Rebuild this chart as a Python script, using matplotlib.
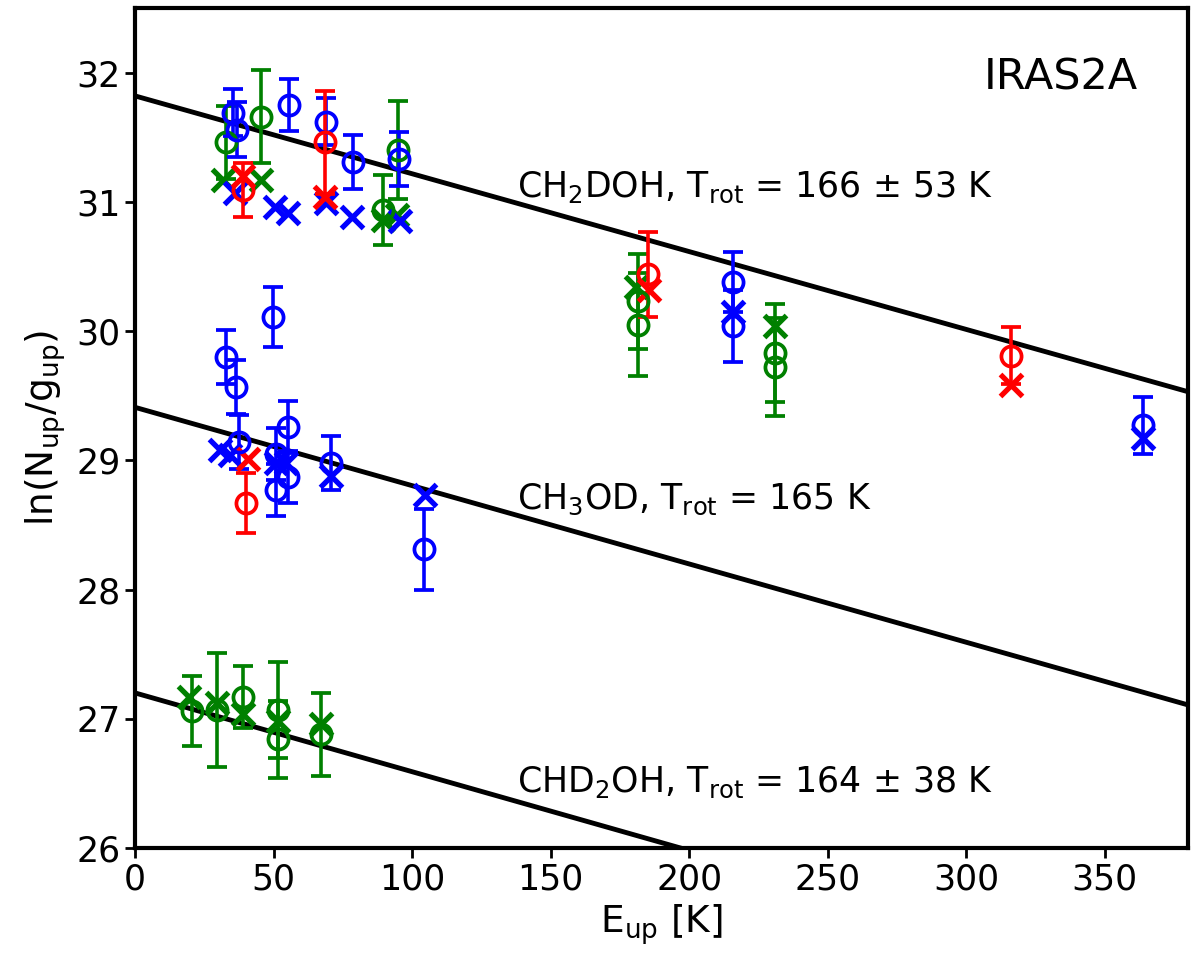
import numpy as np
import matplotlib
matplotlib.use('Agg')
import matplotlib.pyplot as plt

plt.rcParams['font.family'] = ['DejaVu Sans']
plt.rcParams['mathtext.fontset'] = 'dejavusans'

# --- CH2DOH points ---
ch2doh_blue_o_x = [35.4, 36.8, 55.6, 68.8, 78.6, 95.4, 215.8, 215.8, 363.7]
ch2doh_blue_o_y = [31.69, 31.56, 31.75, 31.62, 31.31, 31.33, 30.38, 30.04, 29.27]
ch2doh_blue_o_e = [0.18, 0.21, 0.20, 0.18, 0.21, 0.21, 0.23, 0.28, 0.22]
ch2doh_blue_x_x = [36.0, 50.4, 55.2, 68.8, 78.4, 95.6, 215.8, 363.7]
ch2doh_blue_x_y = [31.07, 30.96, 30.91, 30.99, 30.88, 30.85, 30.15, 29.17]

ch2doh_green_o_x = [33.0, 45.6, 94.8, 89.4, 181.6, 181.6, 230.8, 230.8]
ch2doh_green_o_y = [31.46, 31.66, 31.40, 30.94, 30.23, 30.05, 29.83, 29.72]
ch2doh_green_o_e = [0.28, 0.36, 0.38, 0.27, 0.37, 0.40, 0.38, 0.38]
ch2doh_green_x_x = [31.8, 45.6, 89.4, 94.5, 180.9, 230.8]
ch2doh_green_x_y = [31.17, 31.17, 30.86, 30.90, 30.34, 30.04]

ch2doh_red_o_x = [38.8, 68.4, 185.2, 316.3]
ch2doh_red_o_y = [31.09, 31.46, 30.44, 29.81]
ch2doh_red_o_e = [0.21, 0.40, 0.33, 0.22]
ch2doh_red_x_x = [38.8, 68.4, 185.4, 316.3]
ch2doh_red_x_y = [31.20, 31.04, 30.32, 29.58]

# --- CH3OD points ---
ch3od_blue_o_x = [33.0, 36.6, 37.5, 49.8, 55.2, 51.0, 51.0, 55.2, 70.8, 104.4]
ch3od_blue_o_y = [29.80, 29.57, 29.14, 30.11, 29.26, 29.05, 28.77, 28.87, 28.98, 28.31]
ch3od_blue_o_e = [0.21, 0.21, 0.21, 0.23, 0.20, 0.20, 0.20, 0.20, 0.21, 0.31]
ch3od_blue_x_x = [30.6, 34.2, 51.0, 54.6, 70.8, 104.8]
ch3od_blue_x_y = [29.08, 29.04, 28.98, 28.98, 28.88, 28.73]

ch3od_red_o_x = [40.0]
ch3od_red_o_y = [28.67]
ch3od_red_o_e = [0.23]
ch3od_red_x_x = [40.8]
ch3od_red_x_y = [29.01]

# --- CHD2OH points ---
chd2oh_green_o_x = [20.4, 29.6, 39.0, 51.6, 51.6, 67.2]
chd2oh_green_o_y = [27.06, 27.07, 27.17, 27.07, 26.84, 26.88]
chd2oh_green_o_e = [0.27, 0.44, 0.24, 0.37, 0.30, 0.32]
chd2oh_green_x_x = [19.5, 29.6, 39.0, 51.6, 67.2]
chd2oh_green_x_y = [27.17, 27.12, 27.04, 26.98, 26.96]

# rotational diagram fits: intercept, T_rot
fit_intercepts = [31.82, 29.41, 27.20]
fit_trot = [166, 165, 164]
fit_labels = [r'CH$_2$DOH, T$_{\rm rot}$ = 166 ± 53 K',
              r'CH$_3$OD, T$_{\rm rot}$ = 165 K',
              r'CHD$_2$OH, T$_{\rm rot}$ = 164 ± 38 K']
label_pos = [(138, 31.11), (138, 28.70), (138, 26.51)]

BLUE = '#0000ff'
GREEN = '#008000'
RED = '#ff0000'

fig = plt.figure(figsize=(12, 9.68), dpi=100)
ax = fig.add_axes([0.1125, 0.124, 0.8775, 0.8677])

xx = np.linspace(0, 380, 200)
for b, t in zip(fit_intercepts, fit_trot):
  ax.plot(xx, b - xx / t, color='k', lw=3.5, zorder=1)


def circles(x, y, e, c):
  ax.errorbar(x, y, yerr=e, fmt='o', mfc='none', mec=c, ecolor=c, ms=14.5,
              mew=2.7, elinewidth=2.6, capsize=7, capthick=2.6, zorder=3)


def crosses(x, y, c):
  ax.plot(x, y, 'x', color=c, ms=16, mew=3.8, zorder=3)


circles(ch2doh_green_o_x, ch2doh_green_o_y, ch2doh_green_o_e, GREEN)
crosses(ch2doh_green_x_x, ch2doh_green_x_y, GREEN)
circles(ch2doh_blue_o_x, ch2doh_blue_o_y, ch2doh_blue_o_e, BLUE)
crosses(ch2doh_blue_x_x, ch2doh_blue_x_y, BLUE)
circles(ch2doh_red_o_x, ch2doh_red_o_y, ch2doh_red_o_e, RED)
crosses(ch2doh_red_x_x, ch2doh_red_x_y, RED)

circles(ch3od_blue_o_x, ch3od_blue_o_y, ch3od_blue_o_e, BLUE)
crosses(ch3od_blue_x_x, ch3od_blue_x_y, BLUE)
circles(ch3od_red_o_x, ch3od_red_o_y, ch3od_red_o_e, RED)
crosses(ch3od_red_x_x, ch3od_red_x_y, RED)

circles(chd2oh_green_o_x, chd2oh_green_o_y, chd2oh_green_o_e, GREEN)
crosses(chd2oh_green_x_x, chd2oh_green_x_y, GREEN)

for lab, (lx, ly) in zip(fit_labels, label_pos):
  ax.text(lx, ly, lab, fontsize=25, va='center', ha='left')

ax.text(362, 31.96, 'IRAS2A', fontsize=31, ha='right', va='center')

ax.set_xlim(0, 380)
ax.set_ylim(26, 32.5)
ax.set_xticks([0, 50, 100, 150, 200, 250, 300, 350])
ax.set_yticks([26, 27, 28, 29, 30, 31, 32])
ax.tick_params(labelsize=25, length=7, width=2)
for s in ax.spines.values():
  s.set_linewidth(3)

ax.set_xlabel(r'E$_{\rm up}$ [K]', fontsize=27, labelpad=4)
ax.set_ylabel(r'ln(N$_{\rm up}$/g$_{\rm up}$)', fontsize=27, labelpad=6)

fig.savefig('out.png', dpi=100)
